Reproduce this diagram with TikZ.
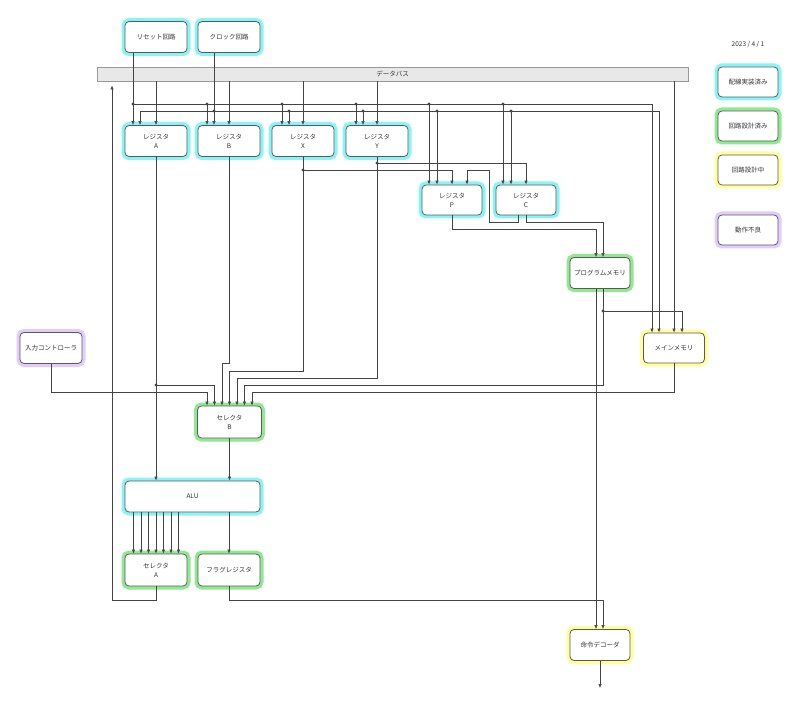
\documentclass[tikz,border=0pt]{standalone}
\usepackage{fontspec}
\setmainfont{Noto Sans CJK JP}
\usetikzlibrary{arrows.meta,calc}
\definecolor{glowc}{HTML}{88F4F8}
\definecolor{glowg}{HTML}{90E890}
\definecolor{glowy}{HTML}{FFFF99}
\definecolor{glowp}{HTML}{E0CCFF}
\definecolor{edgec}{HTML}{5A5A5A}
\definecolor{wirec}{HTML}{444444}
\definecolor{txtc}{HTML}{333333}
\definecolor{busfill}{HTML}{E8E8E8}
\definecolor{busedge}{HTML}{999999}
\tikzset{
  box/.style={draw=edgec, fill=white, rounded corners=4pt, minimum width=62pt,
    minimum height=31pt, inner sep=0pt, align=center, text=txtc, line width=0.8pt,
    font=\fontsize{6.5pt}{9pt}\selectfont},
  cbox/.style={box, preaction={draw=glowc, line width=7pt}},
  gbox/.style={box, preaction={draw=glowg, line width=7pt}},
  ybox/.style={box, preaction={draw=glowy, line width=7pt}},
  pbox/.style={box, preaction={draw=glowp, line width=7pt}},
  busbox/.style={draw=busedge, fill=busfill, minimum width=591pt, minimum height=14pt,
    inner sep=0pt, text=txtc, line width=0.8pt, font=\fontsize{6.5pt}{9pt}\selectfont},
  wire/.style={draw=wirec, line width=0.6pt},
  arr/.style={wire, -{Latex[length=4pt,width=3.4pt]}},
  dot/.style={circle, fill=wirec, inner sep=0pt, minimum size=3.4pt},
  plain/.style={text=txtc, font=\fontsize{6.5pt}{9pt}\selectfont, inner sep=0pt},
}
\begin{document}
\begin{tikzpicture}[x=1pt,y=-1pt]
\useasboundingbox (0,0) rectangle (800,711);
% nodes
\node[cbox] (rst) at (156,37) {リセット回路};
\node[cbox] (clk) at (229,37) {クロック回路};
\node[busbox] (bus) at (392.5,74) {データバス};
\node[cbox] (ra) at (156,141) {レジスタ\\A};
\node[cbox] (rb) at (229,141) {レジスタ\\B};
\node[cbox] (rx) at (303,141) {レジスタ\\X};
\node[cbox] (ry) at (377,141) {レジスタ\\Y};
\node[cbox, minimum width=60pt, minimum height=30pt] (rp) at (452,200) {レジスタ\\P};
\node[cbox, minimum width=60pt, minimum height=30pt] (rc) at (526,200) {レジスタ\\C};
\node[gbox, minimum width=60pt] (pm) at (600,273) {プログラムメモリ};
\node[ybox, minimum width=61pt, minimum height=30pt] (mm) at (674,348) {メインメモリ};
\node[pbox] (inp) at (51,348) {入力コントローラ};
\node[gbox, minimum width=64pt, minimum height=32pt] (sb) at (229.5,422) {セレクタ\\B};
\node[cbox, minimum width=135pt] (alu) at (192.5,496.5) {ALU};
\node[gbox, minimum height=32pt] (sa) at (156,570) {セレクタ\\A};
\node[gbox, minimum height=32pt] (fl) at (229,570) {フラグレジスタ};
\node[ybox, minimum width=60pt] (dec) at (600,645) {命令デコーダ};
% legend
\node[plain] (date) at (748,45) {2023 / 4 / 1};
\node[cbox, minimum width=60pt, minimum height=30pt] (l1) at (748,82) {配線実装済み};
\node[gbox, minimum width=60pt, minimum height=30pt] (l2) at (748,126) {回路設計済み};
\node[ybox, minimum width=60pt, minimum height=30pt] (l3) at (748,170) {回路設計中};
\node[pbox, minimum width=60pt, minimum height=30pt] (l4) at (748,230) {動作不良};
% coordinates
\coordinate (r0) at (133,104);
\coordinate (c0) at (214,111);
\coordinate (xd) at (303,170);
\coordinate (yd) at (377,163);
\coordinate (ad) at (156,385);
\coordinate (pd) at (603,311);
\coordinate (fbk) at (112,600);
\coordinate (decout) at (600,688);
% reset
\draw[arr] ([xshift=-23pt]rst.south) -- ([xshift=-23pt]ra.north);
\draw[arr] (r0) -| ([xshift=-22pt]mm.north);
\draw[arr] (207,104) -- ([xshift=-22pt]rb.north);
\draw[arr] (282,104) -- ([xshift=-21pt]rx.north);
\draw[arr] (356,104) -- ([xshift=-21pt]ry.north);
\draw[arr] (429,104) -- ([xshift=-23pt]rp.north);
\draw[arr] (503,104) -- ([xshift=-23pt]rc.north);
\foreach \x in {133,207,282,356,429,503} \node[dot] at (\x,104) {};
% clock
\draw[arr] ([xshift=-15pt]clk.south) -- ([xshift=-15pt]rb.north);
\draw[arr] (c0) -| ([xshift=-16pt]ra.north);
\draw[arr] (c0) -| ([xshift=-15pt]mm.north);
\draw[arr] (289,111) -- ([xshift=-14pt]rx.north);
\draw[arr] (363,111) -- ([xshift=-14pt]ry.north);
\draw[arr] (437,111) -- ([xshift=-15pt]rp.north);
\draw[arr] (511,111) -- ([xshift=-15pt]rc.north);
\foreach \x in {214,289,363,437,511} \node[dot] at (\x,111) {};
% data bus drops
\draw[arr] (ra.north |- bus.south) -- (ra.north);
\draw[arr] (rb.north |- bus.south) -- (rb.north);
\draw[arr] (rx.north |- bus.south) -- (rx.north);
\draw[arr] (ry.north |- bus.south) -- (ry.north);
\draw[arr] (mm.north |- bus.south) -- (mm.north);
% feedback from selector A to bus
\draw[arr, shorten >=4pt] (sa.south) |- (fbk) -- (fbk |- bus.south);
% register X
\draw[wire] (rx.south) -- (xd);
\draw[arr] (xd) -| (rp.north);
\draw[arr] (xd) -- (303,371) -| (sb.north);
\node[dot] at (xd) {};
% register Y
\draw[wire] (ry.south) -- (yd);
\draw[arr] (yd) -| (rc.north);
\draw[arr] (yd) -- (377,378) -| ([xshift=7.5pt]sb.north);
\node[dot] at (yd) {};
% register C
\draw[arr] ([xshift=-8pt]rc.south) -- ++(0,7) -| (489,170) -| ([xshift=15pt]rp.north);
\draw[arr] (rc.south) -- ++(0,7) -| ([xshift=3pt]pm.north);
% register P
\draw[arr] (rp.south) -- ++(0,14) -| ([xshift=-4pt]pm.north);
% register A
\draw[arr] (ra.south) -- (ra.south |- alu.north);
\draw[arr] (ad) -| ([xshift=-15pt]sb.north);
\node[dot] at (ad) {};
% register B
\draw[arr] (rb.south) -- (229,363) -| ([xshift=-7.5pt]sb.north);
% program memory
\draw[arr] ([xshift=-4pt]pm.south) -- ([xshift=-4pt]dec.north);
\draw[arr] ([xshift=3pt]pm.south) -- (603,385) -| ([xshift=15pt]sb.north);
\draw[arr] (pd) -| ([xshift=8pt]mm.north);
\node[dot] at (pd) {};
% main memory
\draw[arr] (mm.south) -- (674,392) -| ([xshift=22.5pt]sb.north);
% input controller
\draw[arr] (inp.south) -- (51,392) -| ([xshift=-22.5pt]sb.north);
% selector B to ALU
\draw[arr] (sb.south) -- (sb.south |- alu.north);
% ALU to selector A
\foreach \dx in {-22.5,-15,-7.5,0,7.5,15,22.5} {
  \path ([xshift=\dx pt]sa.north) coordinate (t);
  \draw[arr] (t |- alu.south) -- (t);
}
% ALU to flag register
\draw[arr] (fl.north |- alu.south) -- (fl.north);
% flag register to decoder
\draw[arr] (fl.south) -- ++(0,14) -| ([xshift=3pt]dec.north);
% decoder output
\draw[arr] (dec.south) -- (decout);
\end{tikzpicture}
\end{document}
